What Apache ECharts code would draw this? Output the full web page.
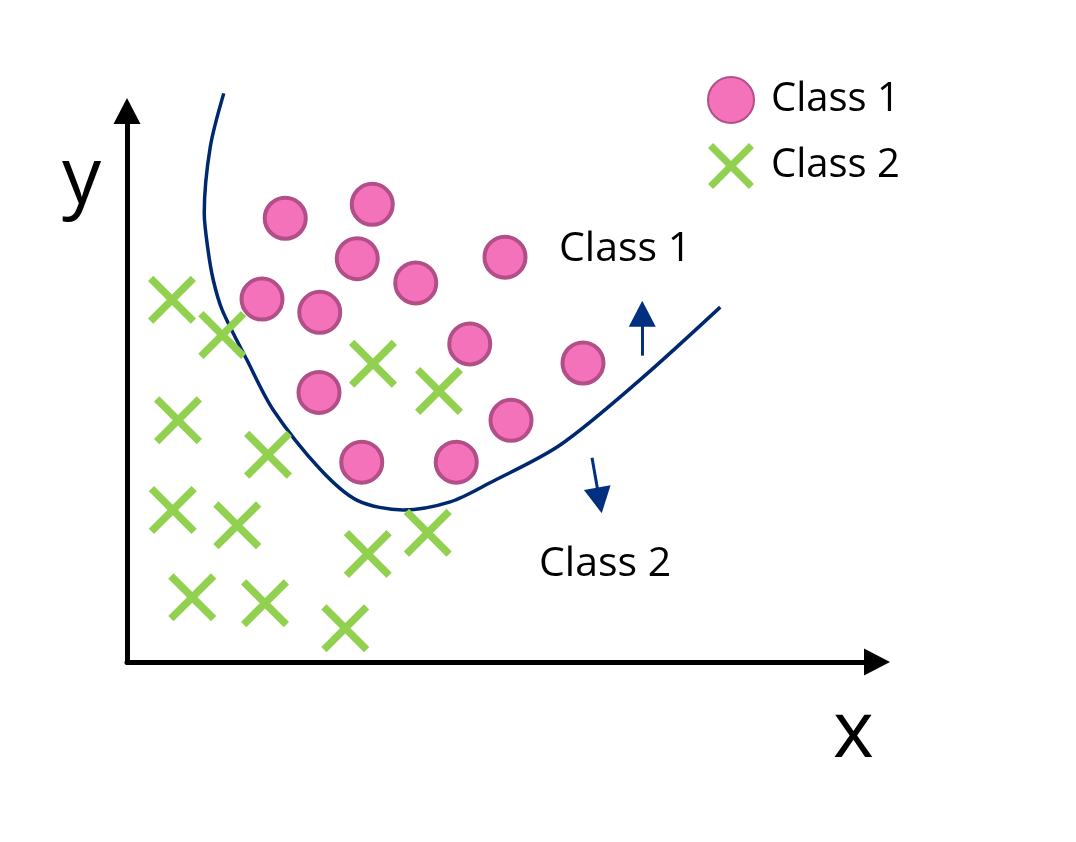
<!DOCTYPE html>
<html>
<head>
<meta charset="utf-8">
<script src="https://cdn.jsdelivr.net/npm/echarts@6/dist/echarts.min.js"></script>
<style>
html,body{margin:0;padding:0;background:#fff;}
#chart{width:1076px;height:842px;}
</style>
</head>
<body>
<div id="chart"></div>
<script>
// ---- data (abstract units) ----
const class1X = [2.11, 3.27, 3.07, 3.85, 5.04, 1.80, 2.57, 4.57, 6.08, 2.56, 5.12, 3.13, 4.39];
const class1Y = [6.04, 6.23, 5.49, 5.16, 5.51, 4.94, 4.76, 4.33, 4.07, 3.67, 3.29, 2.72, 2.72];
const class2X = [0.60, 1.27, 3.28, 4.16, 0.68, 1.88, 0.61, 1.47, 3.21, 4.01, 0.87, 1.84, 2.91];
const class2Y = [4.93, 4.45, 4.06, 3.69, 3.29, 2.82, 2.07, 1.86, 1.47, 1.76, 0.88, 0.80, 0.46];
const boundaryX = [1.29, 1.11, 1.03, 1.08, 1.15, 1.27, 1.60, 1.95, 2.57, 3.07, 3.68, 4.31, 4.84, 5.77, 6.84, 7.91];
const boundaryY = [7.74, 7.01, 6.11, 5.61, 5.20, 4.79, 4.11, 3.43, 2.63, 2.20, 2.07, 2.18, 2.44, 2.95, 3.84, 4.83];
// direction arrows: [x0, y0, x1, y1]
const arrowUp = [6.87, 4.17, 6.87, 4.74];
const arrowDown = [6.20, 2.78, 6.30, 2.20];
const seriesNames = ['Class 1', 'Class 2'];
const regionLabels = ['Class 1', 'Class 2'];
const axisNames = ['x', 'y'];

const pink = '#F472B9', pinkBorder = '#B24F88', green = '#92D050', navy = '#00286E';
const crossPath = 'path://M0,11L11,0L50,39L89,0L100,11L61,50L100,89L89,100L50,61L11,100L0,89L39,50Z';
const font = '"Open Sans", "Noto Sans", sans-serif';

const chart = echarts.init(document.getElementById('chart'), null, {renderer: 'canvas'});
const axisCommon = {
  type: 'value',
  splitLine: {show: false},
  axisTick: {show: false},
  axisLabel: {show: false},
  axisLine: {
    show: true,
    onZero: false,
    symbol: ['none', 'triangle'],
    symbolSize: [27, 26],
    lineStyle: {color: '#000', width: 5}
  }
};
chart.setOption({
  animation: false,
  backgroundColor: '#fff',
  grid: {left: 127, right: 199, top: 111, bottom: 180, containLabel: false},
  xAxis: Object.assign({}, axisCommon, {min: 0, max: 10}),
  yAxis: Object.assign({}, axisCommon, {min: 0, max: 7.5}),
  legend: {
    data: seriesNames,
    orient: 'vertical',
    left: 702,
    top: 71,
    itemWidth: 46,
    itemHeight: 46,
    itemGap: 19,
    textStyle: {fontSize: 40, fontFamily: font, color: '#000', padding: [6, 0, 0, 12]}
  },
  series: [
    {
      type: 'line',
      name: 'boundary',
      data: boundaryX.map((x, i) => [x, boundaryY[i]]),
      smooth: 0.3,
      showSymbol: false,
      clip: false,
      lineStyle: {color: navy, width: 3.5},
      z: 1
    },
    {
      type: 'line',
      name: 'arrows',
      data: [],
      markLine: {
        silent: true,
        symbol: ['none', 'triangle'],
        symbolSize: [27, 26],
        label: {show: false},
        lineStyle: {color: '#00307F', width: 3, type: 'solid'},
        data: [
          [{coord: [arrowUp[0], arrowUp[1]]}, {coord: [arrowUp[2], arrowUp[3]]}],
          [{coord: [arrowDown[0], arrowDown[1]]}, {coord: [arrowDown[2], arrowDown[3]]}]
        ]
      }
    },
    {
      type: 'scatter',
      name: seriesNames[1],
      data: class2X.map((x, i) => [x, class2Y[i]]),
      symbol: crossPath,
      symbolSize: 48,
      itemStyle: {color: green, opacity: 1},
      z: 3
    },
    {
      type: 'scatter',
      name: seriesNames[0],
      data: class1X.map((x, i) => [x, class1Y[i]]),
      symbol: 'circle',
      symbolSize: 41,
      itemStyle: {color: pink, borderColor: pinkBorder, borderWidth: 4, opacity: 1},
      z: 2
    }
  ],
  graphic: [
    {type: 'text', left: 559, top: 229, style: {text: regionLabels[0], font: '41px ' + font, fill: '#000'}},
    {type: 'text', left: 539, top: 544, style: {text: regionLabels[1], font: '41px ' + font, fill: '#000'}},
    {type: 'text', left: 62, top: 142, style: {text: axisNames[1], font: '78px ' + font, fill: '#000'}},
    {type: 'text', left: 833, top: 696, style: {text: axisNames[0], font: '78px ' + font, fill: '#000'}}
  ]
});
</script>
</body>
</html>
